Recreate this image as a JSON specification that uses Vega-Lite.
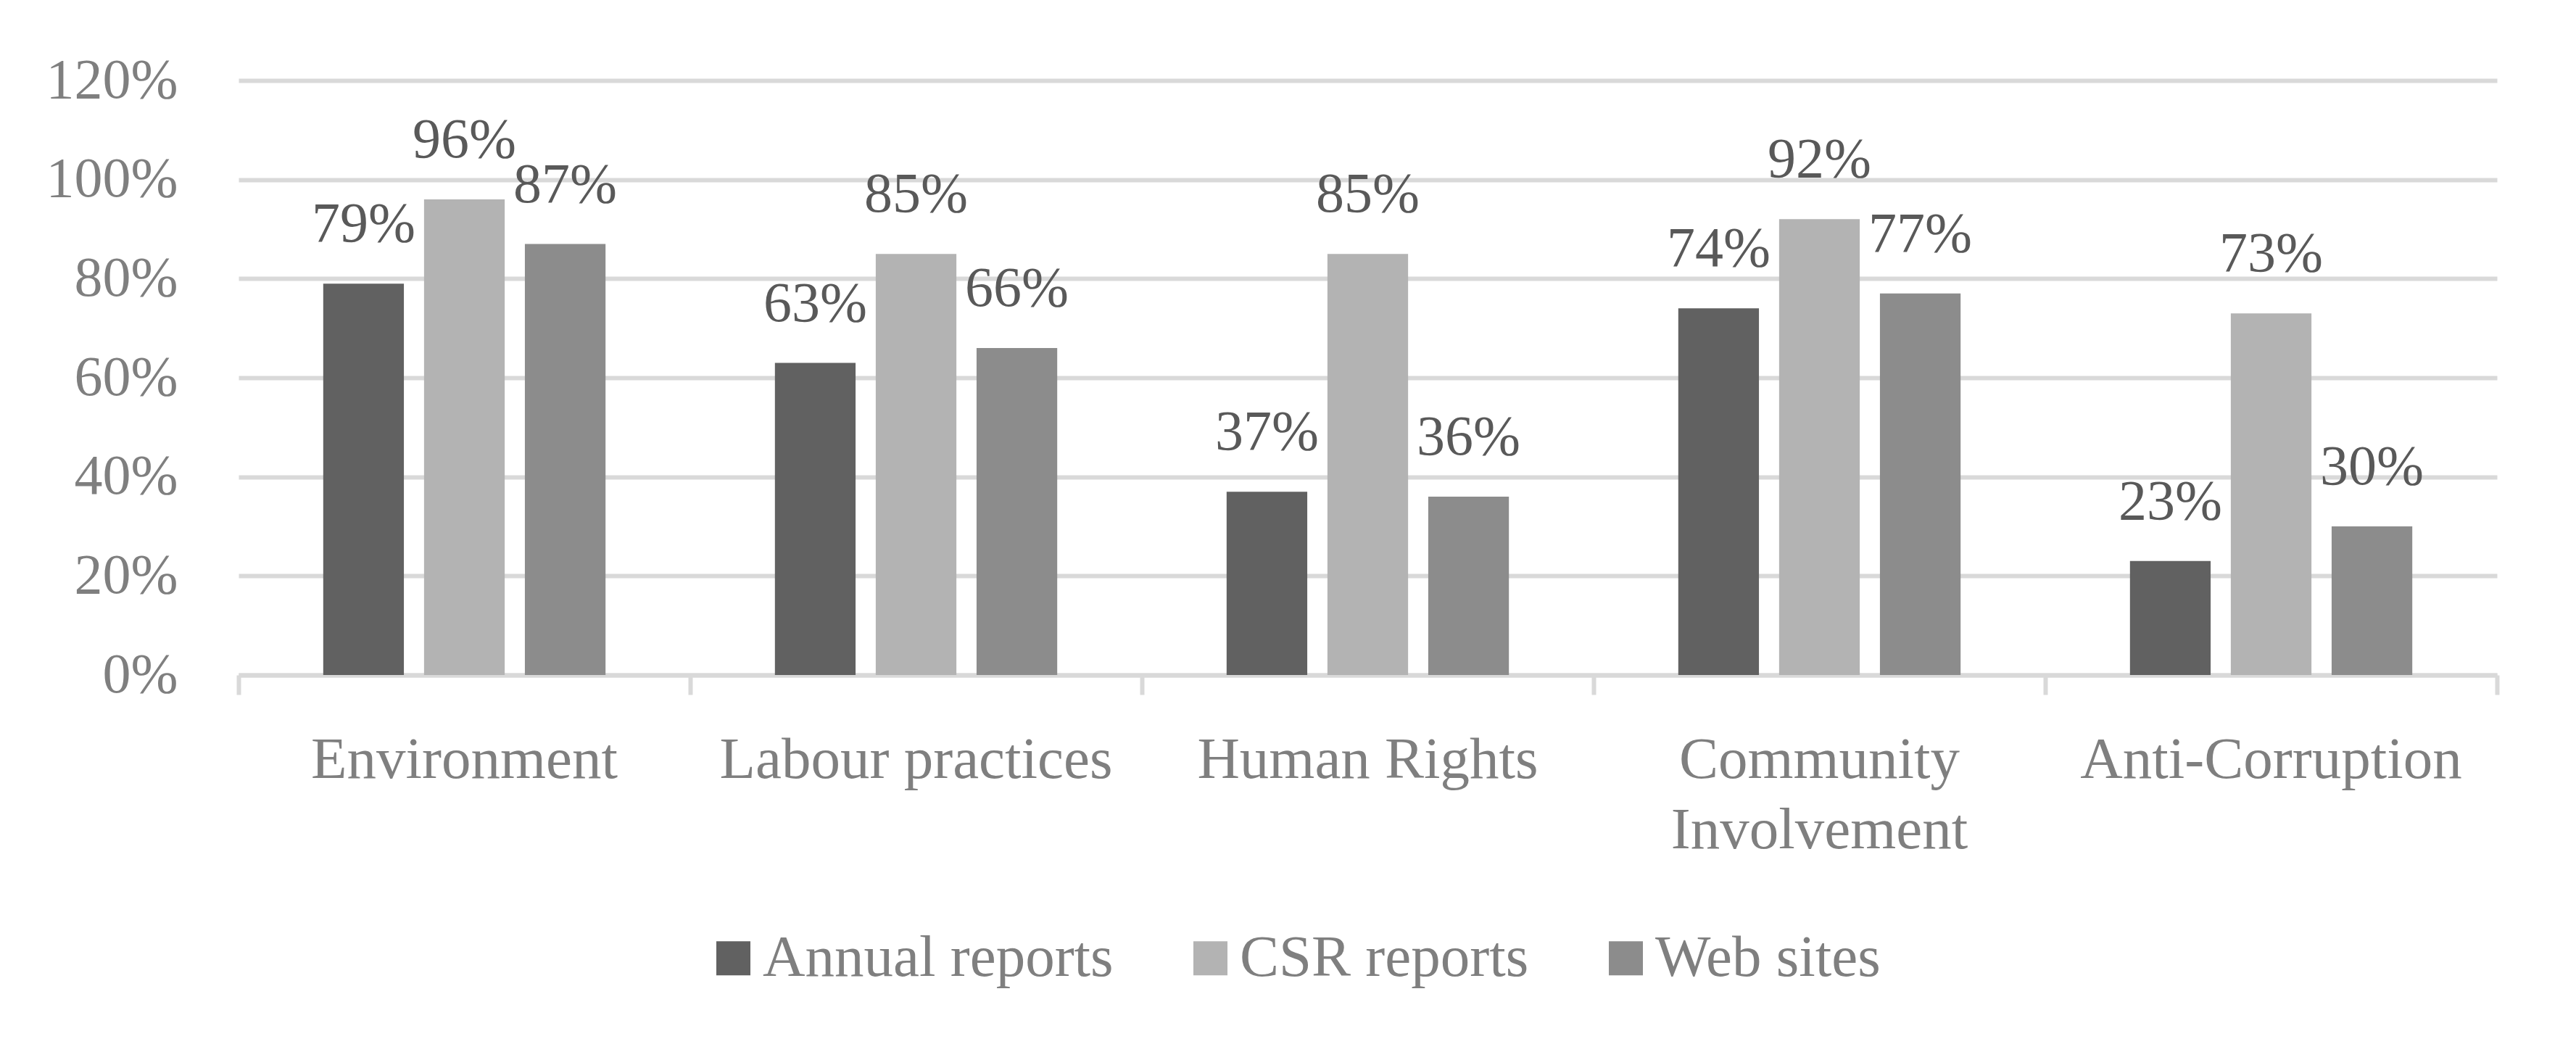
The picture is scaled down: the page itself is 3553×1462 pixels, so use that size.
{
  "$schema": "https://vega.github.io/schema/vega-lite/v6.json",
  "width": 3115,
  "height": 820,
  "autosize": {"type": "none"},
  "padding": {"left": 329, "top": 111, "right": 109, "bottom": 531},
  "background": "white",
  "data": {
    "values": [
      {"category": "Environment", "source": "Annual reports", "value": 0.79},
      {"category": "Environment", "source": "CSR reports", "value": 0.96},
      {"category": "Environment", "source": "Web sites", "value": 0.87},
      {"category": "Labour practices", "source": "Annual reports", "value": 0.63},
      {"category": "Labour practices", "source": "CSR reports", "value": 0.85},
      {"category": "Labour practices", "source": "Web sites", "value": 0.66},
      {"category": "Human Rights", "source": "Annual reports", "value": 0.37},
      {"category": "Human Rights", "source": "CSR reports", "value": 0.85},
      {"category": "Human Rights", "source": "Web sites", "value": 0.36},
      {"category": "Community Involvement", "source": "Annual reports", "value": 0.74},
      {"category": "Community Involvement", "source": "CSR reports", "value": 0.92},
      {"category": "Community Involvement", "source": "Web sites", "value": 0.77},
      {"category": "Anti-Corruption", "source": "Annual reports", "value": 0.23},
      {"category": "Anti-Corruption", "source": "CSR reports", "value": 0.73},
      {"category": "Anti-Corruption", "source": "Web sites", "value": 0.30}
    ]
  },
  "encoding": {
    "x": {
      "field": "category",
      "type": "nominal",
      "sort": ["Environment", "Labour practices", "Human Rights", "Community Involvement", "Anti-Corruption"],
      "scale": {"paddingInner": 0, "paddingOuter": 0},
      "axis": {
        "title": null,
        "labelAngle": 0,
        "bandPosition": 1,
        "tickExtra": true,
        "domainColor": "#d9d9d9",
        "domainWidth": 6,
        "tickColor": "#d9d9d9",
        "tickWidth": 6,
        "tickSize": 27,
        "labelPadding": 50,
        "labelFontSize": 81,
        "labelLineHeight": 97,
        "labelExpr": "datum.label == 'Community Involvement' ? ['Community', 'Involvement'] : datum.label"
      }
    },
    "xOffset": {
      "field": "source",
      "type": "nominal",
      "sort": ["Annual reports", "CSR reports", "Web sites"],
      "scale": {"paddingInner": 0.2, "paddingOuter": 0.84}
    },
    "y": {
      "field": "value",
      "type": "quantitative",
      "scale": {"domain": [0, 1.2], "nice": false},
      "axis": {
        "title": null,
        "values": [0, 0.2, 0.4, 0.6, 0.8, 1.0, 1.2],
        "format": ".0%",
        "domain": false,
        "ticks": false,
        "labelPadding": 84,
        "gridColor": "#d9d9d9",
        "gridWidth": 6
      }
    }
  },
  "layer": [
    {
      "mark": {"type": "bar"},
      "encoding": {
        "color": {
          "field": "source",
          "type": "nominal",
          "sort": ["Annual reports", "CSR reports", "Web sites"],
          "scale": {
            "domain": ["Annual reports", "CSR reports", "Web sites"],
            "range": ["#616161", "#b3b3b3", "#8c8c8c"]
          },
          "legend": {
            "title": null,
            "orient": "none",
            "direction": "horizontal",
            "columns": 3,
            "legendX": 642,
            "legendY": 1170,
            "symbolType": "square",
            "symbolSize": 2209,
            "symbolStrokeWidth": 0,
            "labelOffset": 0,
            "columnPadding": 93,
            "labelFont": "Liberation Serif",
            "labelFontSize": 81,
            "labelColor": "#7f7f7f",
            "labelLimit": 1000
          }
        }
      }
    },
    {
      "mark": {
        "type": "text",
        "baseline": "middle",
        "dy": -81,
        "font": "Liberation Serif",
        "fontSize": 78,
        "color": "#595959"
      },
      "encoding": {
        "text": {"field": "value", "type": "quantitative", "format": ".0%"}
      }
    }
  ],
  "config": {
    "view": {"stroke": null},
    "axis": {
      "labelFont": "Liberation Serif",
      "labelFontSize": 78,
      "labelColor": "#7f7f7f",
      "labelLimit": 1000,
      "grid": true
    },
    "axisX": {"grid": false}
  }
}
